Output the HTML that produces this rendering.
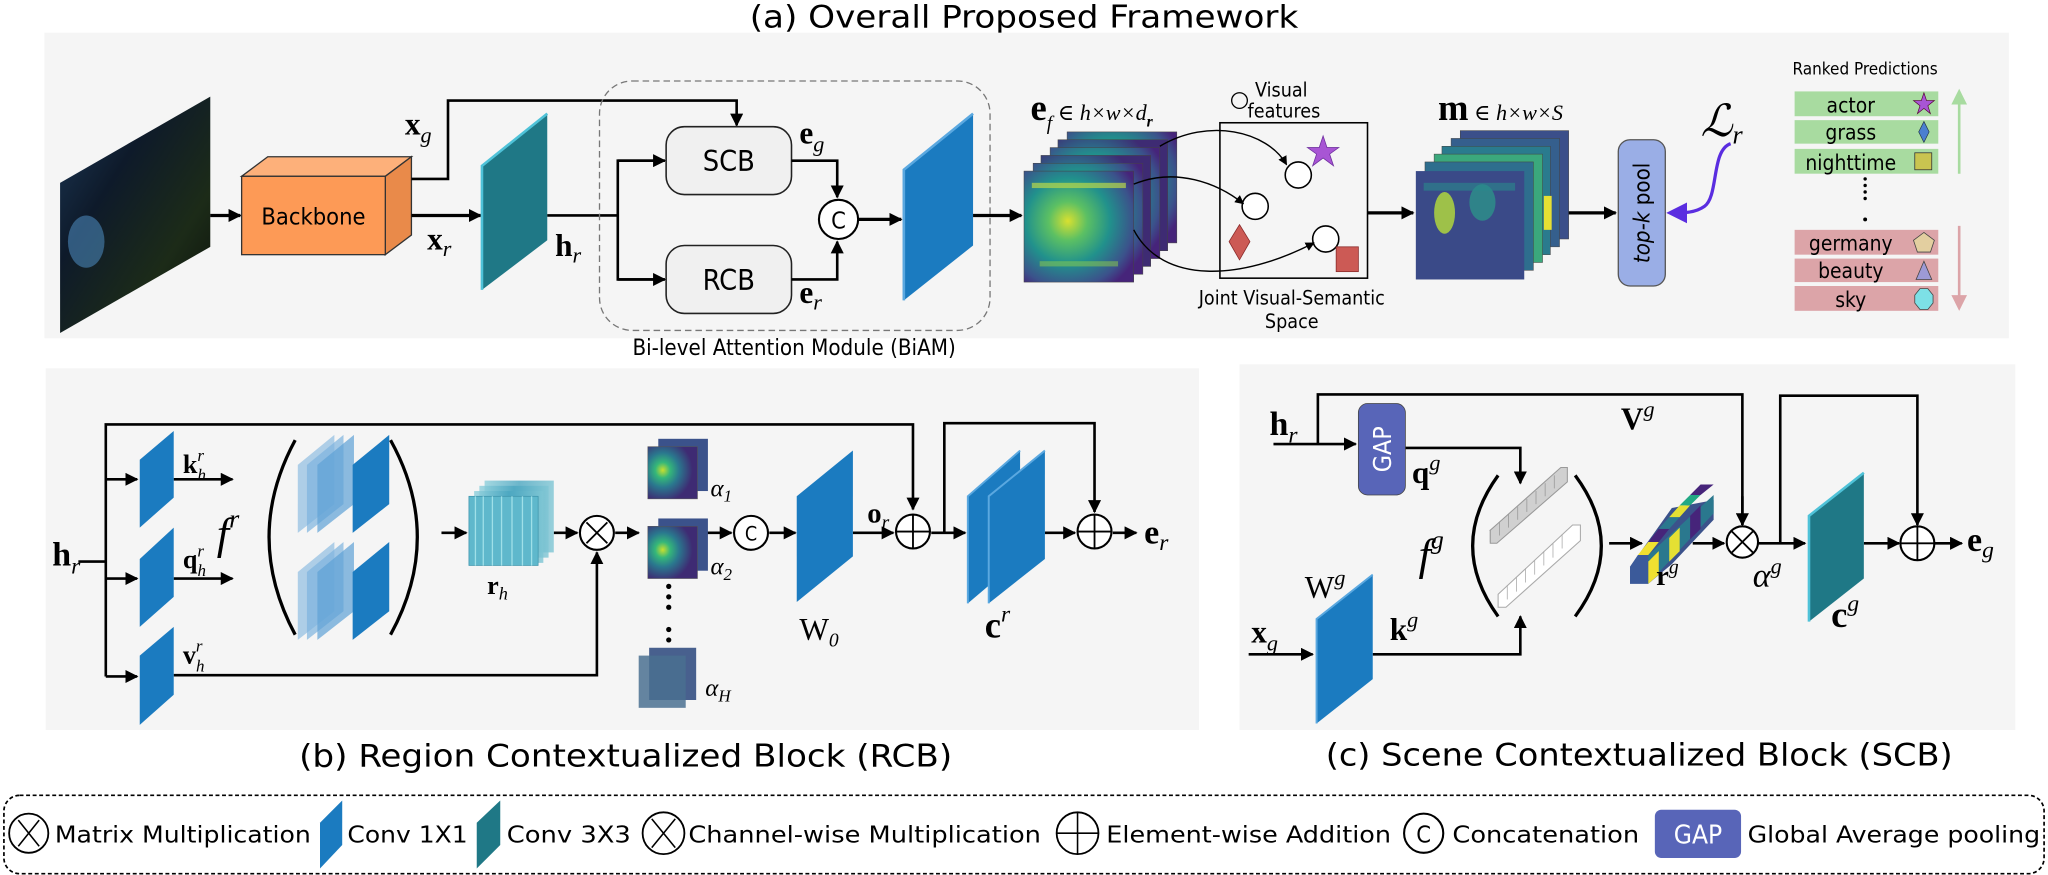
<!DOCTYPE html>
<html><head><meta charset="utf-8"><style>
html,body{margin:0;padding:0;background:#fff;}
svg{display:block;}
.s{font-family:"DejaVu Sans Condensed","DejaVu Sans","Liberation Sans",sans-serif;}
.m{font-family:"Liberation Serif","DejaVu Serif",serif;}
</style></head><body>
<svg width="2048" height="875" viewBox="0 0 1568 670" preserveAspectRatio="none" xmlns="http://www.w3.org/2000/svg">
<defs>
<marker id="ar" viewBox="0 0 10 10" refX="9" refY="5" markerWidth="10" markerHeight="10" markerUnits="userSpaceOnUse" orient="auto"><path d="M0,0L10,5L0,10z" fill="#000"/></marker>
<marker id="ars" viewBox="0 0 10 10" refX="9" refY="5" markerWidth="7" markerHeight="7" markerUnits="userSpaceOnUse" orient="auto"><path d="M0,0L10,5L0,10z" fill="#000"/></marker>
<marker id="arp" viewBox="0 0 10 10" refX="8" refY="5" markerWidth="16" markerHeight="16" markerUnits="userSpaceOnUse" orient="auto"><path d="M0,0L10,5L0,10z" fill="#5a2de0"/></marker>
<radialGradient id="vir" cx="0.4" cy="0.45" r="0.7"><stop offset="0" stop-color="#d8e030"/><stop offset="0.25" stop-color="#5cc063"/><stop offset="0.55" stop-color="#21918c"/><stop offset="0.85" stop-color="#3b528b"/><stop offset="1" stop-color="#46247a"/></radialGradient>
<radialGradient id="vir2" cx="0.3" cy="0.45" r="0.6"><stop offset="0" stop-color="#c8df2f"/><stop offset="0.25" stop-color="#35b779"/><stop offset="0.55" stop-color="#2a788e"/><stop offset="1" stop-color="#3e2b73"/></radialGradient>
<linearGradient id="img" x1="0" y1="0" x2="1" y2="1"><stop offset="0" stop-color="#1d3a5a"/><stop offset="0.35" stop-color="#0e1a2a"/><stop offset="0.7" stop-color="#1c2b18"/><stop offset="1" stop-color="#0a0f0a"/></linearGradient>
<linearGradient id="rh" x1="0" y1="0" x2="1" y2="0"><stop offset="0" stop-color="#8fd0dc"/><stop offset="0.5" stop-color="#4aa6c0"/><stop offset="1" stop-color="#7fc6d4"/></linearGradient>
</defs>

<!-- Title -->
<text class="s" x="784" y="21" font-size="24" text-anchor="middle" textLength="420" lengthAdjust="spacingAndGlyphs">(a) Overall Proposed Framework</text>

<!-- Panel backgrounds -->
<rect x="34" y="25" width="1504" height="234" fill="#f5f5f5"/>
<rect x="35" y="282" width="883" height="277" fill="#f5f5f5"/>
<rect x="949" y="279" width="594" height="280" fill="#f5f5f5"/>

<!-- ===== Panel (a) ===== -->
<polygon points="46,140 161,74 161,189 46,255" fill="url(#img)"/>
<ellipse cx="66" cy="185" rx="14" ry="20" fill="#4a86b8" opacity="0.6"/>
<line x1="161" y1="165" x2="184" y2="165" stroke="#000" stroke-width="2.5" marker-end="url(#ar)"/>
<!-- backbone -->
<polygon points="185,135 205,120 315,120 295,135" fill="#fdb07a" stroke="#333" stroke-width="1"/>
<polygon points="295,135 315,120 315,180 295,195" fill="#e98a4a" stroke="#333" stroke-width="1"/>
<rect x="185" y="135" width="110" height="60" fill="#fd9a56" stroke="#333" stroke-width="1"/>
<text class="s" x="240" y="172" font-size="18" text-anchor="middle">Backbone</text>
<!-- x_g line -->
<polyline points="315,137 343,137 343,77 564,77 564,96" fill="none" stroke="#000" stroke-width="2" marker-end="url(#ar)"/>
<text class="m" x="310" y="103" font-size="24" font-weight="bold">x<tspan font-size="17" font-style="italic" font-weight="normal" dy="6">g</tspan></text>
<line x1="315" y1="165" x2="368" y2="165" stroke="#000" stroke-width="2.5" marker-end="url(#ar)"/>
<text class="m" x="327" y="191" font-size="24" font-weight="bold">x<tspan font-size="17" font-style="italic" font-weight="normal" dy="5">r</tspan></text>
<!-- teal conv -->
<polygon points="369,127 419,87 419,184 369,222" fill="#1f7886"/>
<polyline points="369,222 369,127 419,87" fill="none" stroke="#4fc2d8" stroke-width="2"/>
<line x1="419" y1="165" x2="473" y2="165" stroke="#000" stroke-width="2"/>
<text class="m" x="425" y="196" font-size="24" font-weight="bold">h<tspan font-size="17" font-style="italic" font-weight="normal" dy="5">r</tspan></text>
<!-- BiAM -->
<rect x="459" y="62" width="299" height="191" rx="25" fill="none" stroke="#777" stroke-width="1" stroke-dasharray="5,3"/>
<text class="s" x="608" y="272" font-size="17" text-anchor="middle">Bi-level Attention Module (BiAM)</text>
<polyline points="509,123 473,123 473,214 509,214" fill="none" stroke="#000" stroke-width="2"/>
<line x1="473" y1="123" x2="509" y2="123" stroke="#000" stroke-width="2" marker-end="url(#ar)"/>
<line x1="473" y1="214" x2="509" y2="214" stroke="#000" stroke-width="2" marker-end="url(#ar)"/>
<rect x="510" y="97" width="96" height="52" rx="14" fill="#f0f0f0" stroke="#222" stroke-width="1.2"/>
<text class="s" x="558" y="131" font-size="22" text-anchor="middle">SCB</text>
<rect x="510" y="188" width="96" height="52" rx="14" fill="#f0f0f0" stroke="#222" stroke-width="1.2"/>
<text class="s" x="558" y="222" font-size="22" text-anchor="middle">RCB</text>
<polyline points="606,123 641,123 641,151" fill="none" stroke="#000" stroke-width="2" marker-end="url(#ar)"/>
<polyline points="606,214 641,214 641,185" fill="none" stroke="#000" stroke-width="2" marker-end="url(#ar)"/>
<text class="m" x="612" y="110" font-size="24" font-weight="bold">e<tspan font-size="17" font-style="italic" font-weight="normal" dy="6">g</tspan></text>
<text class="m" x="612" y="232" font-size="24" font-weight="bold">e<tspan font-size="17" font-style="italic" font-weight="normal" dy="5">r</tspan></text>
<circle cx="642" cy="168" r="15" fill="#fff" stroke="#000" stroke-width="1.6"/>
<text class="s" x="642" y="175" font-size="18" text-anchor="middle">C</text>
<line x1="657" y1="168" x2="690" y2="168" stroke="#000" stroke-width="2.5" marker-end="url(#ar)"/>
<polygon points="692,130 745,87 745,188 692,230" fill="#1b7bc0"/>
<polyline points="692,230 692,130 745,87" fill="none" stroke="#5aa8e0" stroke-width="2"/>
<line x1="745" y1="165" x2="782" y2="165" stroke="#000" stroke-width="2.5" marker-end="url(#ar)"/>

<!-- e_f stack -->
<g>
<rect x="817" y="101" width="84" height="85" fill="url(#vir)" stroke="#444" stroke-width="0.4"/>
<rect x="810" y="107" width="84" height="85" fill="url(#vir2)" stroke="#444" stroke-width="0.4"/>
<rect x="804" y="113" width="84" height="85" fill="url(#vir)" stroke="#444" stroke-width="0.4"/>
<rect x="797" y="119" width="84" height="85" fill="url(#vir2)" stroke="#444" stroke-width="0.4"/>
<rect x="791" y="125" width="84" height="85" fill="url(#vir)" stroke="#444" stroke-width="0.4"/>
<rect x="784" y="131" width="84" height="85" fill="url(#vir)" stroke="#444" stroke-width="0.4"/>
<rect x="790" y="140" width="72" height="4" fill="#b9d84a" opacity="0.7"/>
<rect x="796" y="200" width="60" height="4" fill="#8fd04a" opacity="0.5"/>
</g>
<text class="m" x="789" y="92" font-size="28" font-weight="bold">e<tspan font-size="15" font-style="italic" font-weight="normal" dy="7">f</tspan><tspan font-size="17" font-style="italic" font-weight="normal" dy="-7"> ∈ h×w×d</tspan><tspan font-size="12" font-style="italic" dy="5">r</tspan></text>
<!-- visual features -->
<circle cx="949" cy="77" r="6" fill="none" stroke="#000" stroke-width="1"/>
<text class="s" x="981" y="74" font-size="15" text-anchor="middle">Visual</text>
<text class="s" x="983" y="90" font-size="15" text-anchor="middle">features</text>
<rect x="934" y="94" width="113" height="119" fill="none" stroke="#000" stroke-width="1.2"/>
<polygon points="1013,104 1016,113 1025,113 1018,118 1021,127 1013,121 1005,127 1008,118 1001,113 1010,113" fill="#a855d4" stroke="#7030a0" stroke-width="0.6"/>
<circle cx="994" cy="134" r="10" fill="#fff" stroke="#000" stroke-width="1.2"/>
<circle cx="961" cy="158" r="10" fill="#fff" stroke="#000" stroke-width="1.2"/>
<circle cx="1015" cy="183" r="10" fill="#fff" stroke="#000" stroke-width="1.2"/>
<polygon points="949,172 957,185 949,199 941,185" fill="#cc5a55" stroke="#8a2a2a" stroke-width="0.6"/>
<rect x="1023" y="189" width="17" height="19" fill="#cc5a55" stroke="#8a2a2a" stroke-width="0.6"/>
<path d="M888 112 C 925 90 970 100 985 126" fill="none" stroke="#000" stroke-width="1.1" marker-end="url(#ars)"/>
<path d="M868 141 C 900 128 932 140 952 156" fill="none" stroke="#000" stroke-width="1.1" marker-end="url(#ars)"/>
<path d="M868 176 C 890 218 950 215 1006 186" fill="none" stroke="#000" stroke-width="1.1" marker-end="url(#ars)"/>
<text class="s" x="989" y="233" font-size="15" text-anchor="middle">Joint Visual-Semantic</text>
<text class="s" x="989" y="251" font-size="15" text-anchor="middle">Space</text>
<line x1="1047" y1="163" x2="1082" y2="163" stroke="#000" stroke-width="2.5" marker-end="url(#ar)"/>
<!-- m stack -->
<g>
<rect x="1118" y="100" width="83" height="83" fill="#3b4f8a" stroke="#444" stroke-width="0.4"/>
<rect x="1111" y="106" width="83" height="83" fill="#355f8d" stroke="#444" stroke-width="0.4"/>
<rect x="1104" y="112" width="83" height="83" fill="#2a7b8e" stroke="#444" stroke-width="0.4"/>
<rect x="1098" y="118" width="83" height="83" fill="#3ba87c" stroke="#444" stroke-width="0.4"/>
<rect x="1091" y="124" width="83" height="83" fill="#2e6e8e" stroke="#444" stroke-width="0.4"/>
<rect x="1084" y="131" width="83" height="83" fill="#3a4a88"/>
<ellipse cx="1106" cy="163" rx="8" ry="16" fill="#b8de3a" opacity="0.8"/>
<ellipse cx="1135" cy="155" rx="10" ry="14" fill="#2b9b8a" opacity="0.7"/>
<rect x="1090" y="140" width="70" height="6" fill="#2a8a8c" opacity="0.6"/>
<rect x="1182" y="150" width="6" height="26" fill="#e5e033"/>
</g>
<text class="m" x="1101" y="92" font-size="28" font-weight="bold">m<tspan font-size="17" font-style="italic" font-weight="normal"> ∈ h×w×S</tspan></text>
<line x1="1201" y1="163" x2="1237" y2="163" stroke="#000" stroke-width="2.5" marker-end="url(#ar)"/>
<rect x="1239" y="107" width="36" height="112" rx="9" fill="#9aaee6" stroke="#555" stroke-width="1"/>
<text class="s" font-size="17" text-anchor="middle" transform="translate(1263,163) rotate(-90)"><tspan font-style="italic">top-k</tspan> pool</text>
<text class="m" x="1302" y="104" font-size="34" font-style="italic">ℒ<tspan font-size="20" dy="6">r</tspan></text>
<path d="M1325 110 C 1310 115 1316 150 1305 158 C 1298 163 1290 163 1279 163" fill="none" stroke="#5a2de0" stroke-width="2.5" marker-end="url(#arp)"/>
<!-- ranked -->
<text class="s" x="1428" y="57" font-size="13" text-anchor="middle">Ranked Predictions</text>
<rect x="1374" y="70" width="110" height="19" fill="#a8dba0"/>
<rect x="1374" y="92" width="110" height="18" fill="#a8dba0"/>
<rect x="1374" y="114" width="110" height="19" fill="#a8dba0"/>
<rect x="1374" y="176" width="110" height="19" fill="#dca4a8"/>
<rect x="1374" y="198" width="110" height="18" fill="#dca4a8"/>
<rect x="1374" y="219" width="110" height="19" fill="#dca4a8"/>
<text class="s" x="1417" y="86" font-size="16" text-anchor="middle">actor</text>
<text class="s" x="1417" y="107" font-size="16" text-anchor="middle">grass</text>
<text class="s" x="1417" y="130" font-size="16" text-anchor="middle">nighttime</text>
<text class="s" x="1417" y="192" font-size="16" text-anchor="middle">germany</text>
<text class="s" x="1417" y="213" font-size="16" text-anchor="middle">beauty</text>
<text class="s" x="1417" y="235" font-size="16" text-anchor="middle">sky</text>
<polygon points="1473,71 1475,77 1481,77 1476,81 1478,87 1473,83 1468,87 1470,81 1465,77 1471,77" fill="#a855d4" stroke="#503" stroke-width="0.5"/>
<polygon points="1473,93 1477,101 1473,109 1469,101" fill="#4a7fd0" stroke="#234" stroke-width="0.5"/>
<rect x="1466" y="117" width="13" height="13" fill="#c9c450" stroke="#333" stroke-width="0.6"/>
<polygon points="1473,178 1481,184 1478,193 1468,193 1465,184" fill="#e3cfa0" stroke="#444" stroke-width="0.6"/>
<polygon points="1473,200 1479,214 1467,214" fill="#9d9ad6" stroke="#444" stroke-width="0.6"/>
<polygon points="1470,221 1476,221 1480,226 1480,232 1476,237 1470,237 1466,232 1466,226" fill="#7de0e6" stroke="#444" stroke-width="0.6"/>
<line x1="1500" y1="133" x2="1500" y2="72" stroke="#a8dba0" stroke-width="2"/>
<polygon points="1494,80 1500,68 1506,80" fill="#a8dba0"/>
<line x1="1500" y1="173" x2="1500" y2="234" stroke="#dca4a8" stroke-width="2"/>
<polygon points="1494,226 1500,238 1506,226" fill="#dca4a8"/>
<g fill="#000"><circle cx="1428" cy="137" r="1.3"/><circle cx="1428" cy="142" r="1.3"/><circle cx="1428" cy="147" r="1.3"/><circle cx="1428" cy="152" r="1.3"/><circle cx="1428" cy="168" r="1.5"/></g>

<!-- ===== Panel (b) ===== -->
<g stroke="#000" stroke-width="2" fill="none">
<polyline points="81,518 81,325 699,325 699,390" marker-end="url(#ar)"/>
<line x1="60" y1="430" x2="81" y2="430"/>
<line x1="81" y1="367" x2="105" y2="367" marker-end="url(#ar)"/>
<line x1="81" y1="443" x2="105" y2="443" marker-end="url(#ar)"/>
<line x1="81" y1="518" x2="105" y2="518" marker-end="url(#ar)"/>
<line x1="133" y1="367" x2="178" y2="367" marker-end="url(#ar)"/>
<line x1="133" y1="443" x2="178" y2="443" marker-end="url(#ar)"/>
<polyline points="133,517 457,517 457,423" marker-end="url(#ar)"/>
<line x1="338" y1="408" x2="357" y2="408" marker-end="url(#ar)"/>
<line x1="424" y1="408" x2="442" y2="408" marker-end="url(#ar)"/>
<line x1="471" y1="408" x2="489" y2="408" marker-end="url(#ar)"/>
<line x1="540" y1="408" x2="560" y2="408" marker-end="url(#ar)"/>
<line x1="589" y1="408" x2="609" y2="408" marker-end="url(#ar)"/>
<line x1="653" y1="408" x2="684" y2="408" marker-end="url(#ar)"/>
<line x1="713" y1="408" x2="739" y2="408" marker-end="url(#ar)"/>
<polyline points="723,408 723,324 838,324 838,392" marker-end="url(#ar)"/>
<line x1="800" y1="408" x2="823" y2="408" marker-end="url(#ar)"/>
<line x1="852" y1="408" x2="870" y2="408" marker-end="url(#ar)"/>
</g>
<text class="m" x="40" y="433" font-size="26" font-weight="bold">h<tspan font-size="18" font-style="italic" font-weight="normal" dy="6">r</tspan></text>
<polygon points="107,352 133,330 133,381 107,404" fill="#1b7bc0"/>
<polygon points="107,428 133,404 133,457 107,480" fill="#1b7bc0"/>
<polygon points="107,502 133,480 133,532 107,555" fill="#1b7bc0"/>
<text class="m" x="140" y="362" font-size="20" font-weight="bold">k<tspan font-size="13" font-style="italic" font-weight="normal" dy="-9">r</tspan><tspan font-size="13" font-style="italic" font-weight="normal" dx="-5" dy="15">h</tspan></text>
<text class="m" x="140" y="435" font-size="20" font-weight="bold">q<tspan font-size="13" font-style="italic" font-weight="normal" dy="-9">r</tspan><tspan font-size="13" font-style="italic" font-weight="normal" dx="-5" dy="15">h</tspan></text>
<text class="m" x="140" y="508" font-size="20" font-weight="bold">v<tspan font-size="13" font-style="italic" font-weight="normal" dy="-9">r</tspan><tspan font-size="13" font-style="italic" font-weight="normal" dx="-5" dy="15">h</tspan></text>
<text class="m" x="166" y="420" font-size="34" font-style="italic">f<tspan font-size="20" dy="-16">r</tspan></text>
<path d="M226 337 Q 186 411 226 486" fill="none" stroke="#000" stroke-width="2.5"/>
<path d="M299 337 Q 340 411 299 486" fill="none" stroke="#000" stroke-width="2.5"/>
<g>
<polygon points="228,356 256,333 256,386 228,408" fill="#9cc4e4" opacity="0.8"/>
<polygon points="235,356 263,333 263,386 235,408" fill="#7db3de" opacity="0.7"/>
<polygon points="243,356 271,333 271,386 243,408" fill="#5ea1d6" opacity="0.7"/>
<polygon points="270,356 298,333 298,386 270,408" fill="#1b7bc0"/>
<polygon points="228,438 256,415 256,468 228,490" fill="#9cc4e4" opacity="0.8"/>
<polygon points="235,438 263,415 263,468 235,490" fill="#7db3de" opacity="0.7"/>
<polygon points="243,438 271,415 271,468 243,490" fill="#5ea1d6" opacity="0.7"/>
<polygon points="270,438 298,415 298,468 270,490" fill="#1b7bc0"/>
</g>
<g>
<rect x="371" y="368" width="53" height="55" fill="url(#rh)" opacity="0.8"/>
<rect x="367" y="372" width="53" height="55" fill="url(#rh)" opacity="0.8"/>
<rect x="363" y="376" width="53" height="55" fill="url(#rh)" opacity="0.8"/>
<rect x="359" y="380" width="53" height="53" fill="#5fb8cc" stroke="#3a90a8" stroke-width="0.5"/>
<g stroke="#9fe0e8" stroke-width="1"><line x1="364" y1="380" x2="364" y2="433"/><line x1="370" y1="380" x2="370" y2="433"/><line x1="377" y1="380" x2="377" y2="433"/><line x1="384" y1="380" x2="384" y2="433"/><line x1="392" y1="380" x2="392" y2="433"/><line x1="400" y1="380" x2="400" y2="433"/><line x1="407" y1="380" x2="407" y2="433"/></g>
</g>
<text class="m" x="373" y="455" font-size="20" font-weight="bold">r<tspan font-size="14" font-style="italic" font-weight="normal" dy="4">h</tspan></text>
<circle cx="457" cy="408" r="13" fill="#fff" stroke="#000" stroke-width="1.6"/>
<path d="M449 400L465 416M465 400L449 416" stroke="#000" stroke-width="1.4"/>
<g>
<rect x="504" y="336" width="38" height="40" fill="#3b528b"/><rect x="496" y="342" width="38" height="40" fill="url(#vir2)" stroke="#555" stroke-width="0.4"/>
<rect x="504" y="397" width="38" height="40" fill="#3b528b"/><rect x="496" y="403" width="38" height="40" fill="url(#vir2)" stroke="#555" stroke-width="0.4"/>
<rect x="497" y="496" width="36" height="40" fill="#48608e"/><rect x="489" y="502" width="36" height="40" fill="#4a7090" opacity="0.85"/>
</g>
<g class="m" font-size="19" font-style="italic"><text x="544" y="380">α<tspan font-size="13" dy="4">1</tspan></text><text x="544" y="440">α<tspan font-size="13" dy="4">2</tspan></text><text x="540" y="533">α<tspan font-size="13" dy="4">H</tspan></text></g>
<g fill="#000"><circle cx="512" cy="449" r="2"/><circle cx="512" cy="457" r="2"/><circle cx="512" cy="465" r="2"/><circle cx="512" cy="482" r="2"/><circle cx="512" cy="490" r="2"/></g>
<circle cx="575" cy="408" r="13" fill="#fff" stroke="#000" stroke-width="1.6"/>
<text class="s" x="575" y="414" font-size="15" text-anchor="middle">C</text>
<polygon points="610,380 653,345 653,426 610,461" fill="#1b7bc0"/>
<text class="m" x="612" y="490" font-size="24">W<tspan font-size="15" font-style="italic" dy="5">0</tspan></text>
<text class="m" x="664" y="400" font-size="22" font-weight="bold">o<tspan font-size="15" font-style="italic" font-weight="normal" dy="5">r</tspan></text>
<circle cx="699" cy="407" r="13" fill="#fff" stroke="#000" stroke-width="1.6"/>
<path d="M699 394V420M686 407H712" stroke="#000" stroke-width="1.4"/>
<polygon points="741,380 781,345 781,428 741,462" fill="#1b7bc0"/>
<polyline points="741,462 741,380 781,345" fill="none" stroke="#5aa8e0" stroke-width="1.5"/>
<polygon points="757,380 800,345 800,428 757,462" fill="#1b7bc0"/>
<polyline points="757,462 757,380 800,345" fill="none" stroke="#5aa8e0" stroke-width="1.5"/>
<text class="m" x="754" y="488" font-size="28" font-weight="bold">c<tspan font-size="18" font-style="italic" font-weight="normal" dy="-12">r</tspan></text>
<circle cx="838" cy="407" r="13" fill="#fff" stroke="#000" stroke-width="1.6"/>
<path d="M838 394V420M825 407H851" stroke="#000" stroke-width="1.4"/>
<text class="m" x="876" y="416" font-size="26" font-weight="bold">e<tspan font-size="18" font-style="italic" font-weight="normal" dy="5">r</tspan></text>
<text class="s" x="479" y="587" font-size="24" text-anchor="middle" textLength="500" lengthAdjust="spacingAndGlyphs">(b) Region Contextualized Block (RCB)</text>

<!-- ===== Panel (c) ===== -->
<g stroke="#000" stroke-width="2" fill="none">
<line x1="975" y1="340" x2="1038" y2="340" marker-end="url(#ar)"/>
<polyline points="1009,340 1009,302 1334,302 1334,402"/>
<line x1="1334" y1="380" x2="1334" y2="402" marker-end="url(#ar)"/>
<polyline points="1076,343 1164,343 1164,370" marker-end="url(#ar)"/>
<line x1="1232" y1="416" x2="1257" y2="416" marker-end="url(#ar)"/>
<line x1="1296" y1="416" x2="1320" y2="416" marker-end="url(#ar)"/>
<line x1="1346" y1="416" x2="1382" y2="416" marker-end="url(#ar)"/>
<polyline points="1363,416 1363,303 1468,303 1468,402" marker-end="url(#ar)"/>
<line x1="1427" y1="416" x2="1454" y2="416" marker-end="url(#ar)"/>
<line x1="1481" y1="416" x2="1502" y2="416" marker-end="url(#ar)"/>
<line x1="956" y1="501" x2="1005" y2="501" marker-end="url(#ar)"/>
<polyline points="1051,501 1164,501 1164,472" marker-end="url(#ar)"/>
</g>
<text class="m" x="972" y="333" font-size="26" font-weight="bold">h<tspan font-size="18" font-style="italic" font-weight="normal" dy="6">r</tspan></text>
<rect x="1040" y="309" width="36" height="70" rx="7" fill="#5865b8" stroke="#444" stroke-width="0.6"/>
<text class="s" font-size="19" fill="#fff" text-anchor="middle" transform="translate(1065,344) rotate(-90)">GAP</text>
<text class="m" x="1081" y="370" font-size="24" font-weight="bold">q<tspan font-size="17" font-style="italic" font-weight="normal" dy="-10">g</tspan></text>
<text class="m" x="1241" y="329" font-size="24" font-weight="bold">V<tspan font-size="17" font-style="italic" font-weight="normal" dy="-10">g</tspan></text>
<text class="m" x="1086" y="436" font-size="34" font-style="italic">f<tspan font-size="20" dy="-16">g</tspan></text>
<path d="M1147 364 Q 1108 418 1147 472" fill="none" stroke="#000" stroke-width="2.5"/>
<path d="M1206 364 Q 1246 418 1206 472" fill="none" stroke="#000" stroke-width="2.5"/>
<!-- grey vector -->
<g stroke="#999" stroke-width="0.7" fill="#ccc">
<polygon points="1141,406 1195,359 1199,359 1145,406" fill="#e0e0e0"/>
<polygon points="1199,359 1199,368 1145,415 1145,406" fill="#bbb"/>
<rect x="1141" y="406" width="4" height="9" fill="#c8c8c8"/>
</g>
<polygon points="1141,406 1195,358 1200,358 1200,369 1146,416 1141,416" fill="#d0d0d0" stroke="#999" stroke-width="0.8"/>
<g stroke="#999" stroke-width="0.6"><line x1="1148" y1="400" x2="1148" y2="410"/><line x1="1155" y1="394" x2="1155" y2="404"/><line x1="1162" y1="388" x2="1162" y2="398"/><line x1="1169" y1="382" x2="1169" y2="392"/><line x1="1176" y1="376" x2="1176" y2="386"/><line x1="1183" y1="370" x2="1183" y2="380"/><line x1="1190" y1="364" x2="1190" y2="374"/></g>
<polygon points="1147,455 1204,402 1210,402 1210,414 1153,465 1147,465" fill="#fff" stroke="#aaa" stroke-width="0.8"/>
<g stroke="#aaa" stroke-width="0.6"><line x1="1154" y1="448" x2="1154" y2="459"/><line x1="1161" y1="442" x2="1161" y2="453"/><line x1="1168" y1="435" x2="1168" y2="446"/><line x1="1175" y1="429" x2="1175" y2="440"/><line x1="1182" y1="422" x2="1182" y2="433"/><line x1="1189" y1="416" x2="1189" y2="427"/><line x1="1196" y1="409" x2="1196" y2="420"/></g>
<!-- r^g vector -->
<polygon points="1248,434 1280,389 1312,383 1312,398 1280,432 1262,447 1248,447" fill="#3b528b"/>
<polygon points="1248,434 1254,425 1262,425 1262,447 1248,447" fill="#3b5a9a"/>
<polygon points="1254,425 1262,415 1270,415 1262,425" fill="#f0e030"/>
<polygon points="1262,415 1270,405 1278,405 1270,415" fill="#46247a"/>
<polygon points="1270,405 1278,396 1286,396 1278,405" fill="#2a788e"/>
<polygon points="1278,396 1286,387 1294,387 1286,396" fill="#e5e033"/>
<polygon points="1286,387 1294,379 1302,379 1294,387" fill="#22a884"/>
<polygon points="1294,379 1302,371 1312,371 1302,379" fill="#46247a"/>
<polygon points="1262,425 1312,379 1312,393 1262,447" fill="#2a788e"/>
<polygon points="1262,430 1270,422 1270,440 1262,447" fill="#f0e030"/>
<polygon points="1278,412 1286,404 1286,422 1278,430" fill="#e5e033"/>
<polygon points="1294,395 1302,387 1302,405 1294,413" fill="#46247a"/>
<text class="m" x="1268" y="448" font-size="22" font-weight="bold">r<tspan font-size="15" font-style="italic" font-weight="normal" dy="-9">g</tspan></text>
<circle cx="1334" cy="415" r="12" fill="#fff" stroke="#000" stroke-width="1.6"/>
<path d="M1326 407L1342 423M1342 407L1326 423" stroke="#000" stroke-width="1.4"/>
<text class="m" x="1342" y="449" font-size="26" font-style="italic">α<tspan font-size="17" dy="-10">g</tspan></text>
<polygon points="1385,395 1427,362 1427,443 1385,476" fill="#1f7886"/>
<polyline points="1385,476 1385,395 1427,362" fill="none" stroke="#4fc2d8" stroke-width="2"/>
<text class="m" x="1402" y="480" font-size="28" font-weight="bold">c<tspan font-size="18" font-style="italic" font-weight="normal" dy="-12">g</tspan></text>
<circle cx="1468" cy="416" r="13" fill="#fff" stroke="#000" stroke-width="1.6"/>
<path d="M1468 403V429M1455 416H1481" stroke="#000" stroke-width="1.4"/>
<text class="m" x="1506" y="422" font-size="26" font-weight="bold">e<tspan font-size="18" font-style="italic" font-weight="normal" dy="5">g</tspan></text>
<polygon points="1008,474 1051,440 1051,520 1008,554" fill="#1b7bc0"/>
<polyline points="1008,554 1008,474 1051,440" fill="none" stroke="#5aa8e0" stroke-width="1.5"/>
<text class="m" x="999" y="458" font-size="24">W<tspan font-size="17" font-style="italic" dy="-10">g</tspan></text>
<text class="m" x="958" y="492" font-size="24" font-weight="bold">x<tspan font-size="17" font-style="italic" font-weight="normal" dy="6">g</tspan></text>
<text class="m" x="1064" y="490" font-size="24" font-weight="bold">k<tspan font-size="17" font-style="italic" font-weight="normal" dy="-10">g</tspan></text>
<text class="s" x="1255" y="586" font-size="24" text-anchor="middle" textLength="480" lengthAdjust="spacingAndGlyphs">(c) Scene Contextualized Block (SCB)</text>

<!-- ===== Legend ===== -->
<rect x="3" y="609" width="1562" height="60" rx="12" fill="none" stroke="#000" stroke-width="1.3" stroke-dasharray="3,2"/>
<g class="s" font-size="18">
<circle cx="22" cy="638" r="15" fill="none" stroke="#000" stroke-width="1.4"/>
<path d="M14 628L30 648M30 628L14 648" stroke="#000" stroke-width="1.2"/>
<text x="42" y="645" textLength="196" lengthAdjust="spacingAndGlyphs">Matrix Multiplication</text>
<polygon points="245,630 262,613 262,647 245,665" fill="#1b7bc0"/>
<text x="266" y="645" textLength="92" lengthAdjust="spacingAndGlyphs">Conv 1X1</text>
<polygon points="365,630 383,613 383,647 365,665" fill="#1f7886"/>
<text x="388" y="645" textLength="95" lengthAdjust="spacingAndGlyphs">Conv 3X3</text>
<circle cx="508" cy="638" r="16" fill="none" stroke="#000" stroke-width="1.4"/>
<path d="M499 627L517 649M517 627L499 649" stroke="#000" stroke-width="1.2"/>
<text x="527" y="645" textLength="270" lengthAdjust="spacingAndGlyphs">Channel-wise Multiplication</text>
<circle cx="825" cy="638" r="16" fill="none" stroke="#000" stroke-width="1.4"/>
<path d="M825 622V654M809 638H841" stroke="#000" stroke-width="1.2"/>
<text x="847" y="645" textLength="218" lengthAdjust="spacingAndGlyphs">Element-wise Addition</text>
<circle cx="1090" cy="638" r="15" fill="none" stroke="#000" stroke-width="1.6"/>
<text x="1090" y="645" text-anchor="middle" font-size="18">C</text>
<text x="1112" y="645" textLength="143" lengthAdjust="spacingAndGlyphs">Concatenation</text>
<rect x="1267" y="620" width="66" height="37" rx="5" fill="#5865b8"/>
<text x="1300" y="646" text-anchor="middle" fill="#fff" font-size="20">GAP</text>
<text x="1338" y="645" textLength="224" lengthAdjust="spacingAndGlyphs">Global Average pooling</text>
</g>
</svg>
</body></html>
